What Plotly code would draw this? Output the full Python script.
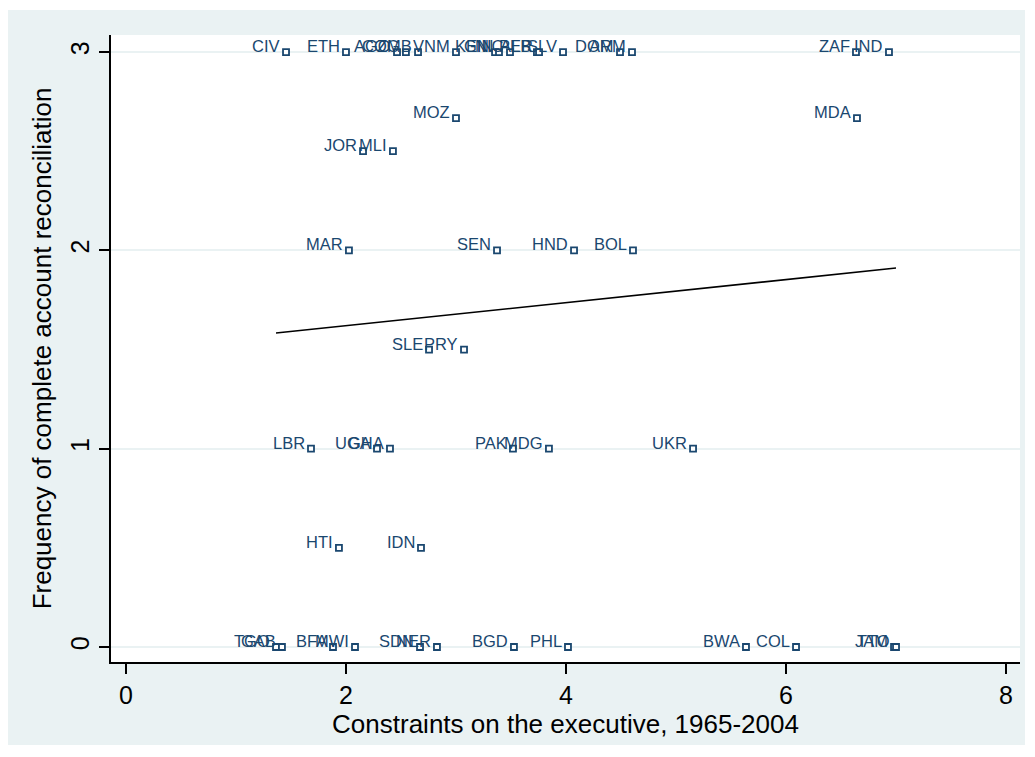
import plotly.graph_objects as go

# Country codes, executive constraints (x) and reconciliation frequency (y)
countries = [
    "CIV", "ETH", "AGO", "COG", "ZMB", "VNM", "KEN", "GIN", "NIC", "ALB",
    "PER", "SLV", "DOM", "ARM", "ZAF", "IND",
    "MOZ", "MDA", "JOR", "MLI",
    "MAR", "SEN", "HND", "BOL",
    "SLE", "PRY",
    "LBR", "UGA", "GHA", "PAK", "MDG", "UKR",
    "HTI", "IDN",
    "TGO", "GAB", "BFA", "MWI", "SDN", "NER", "BGD", "PHL", "BWA", "COL",
    "JAM", "TTO",
]
xcon = [
    1.455, 2.0, 2.464, 2.545, 2.655, 3.0, 3.355, 3.391, 3.491, 3.736,
    3.755, 3.973, 4.491, 4.6, 6.636, 6.936,
    3.0, 6.645, 2.155, 2.427,
    2.027, 3.373, 4.073, 4.609,
    2.755, 3.073,
    1.682, 2.282, 2.4, 3.518, 3.845, 5.155,
    1.936, 2.682,
    1.364, 1.418, 1.882, 2.082, 2.673, 2.827, 3.527, 4.018, 5.636, 6.091,
    6.982, 7.0,
]
yfreq = [
    3, 3, 3, 3, 3, 3, 3, 3, 3, 3,
    3, 3, 3, 3, 3, 3,
    2.667, 2.667, 2.5, 2.5,
    2, 2, 2, 2,
    1.5, 1.5,
    1, 1, 1, 1, 1, 1,
    0.5, 0.5,
    0, 0, 0, 0, 0, 0, 0, 0, 0, 0,
    0, 0,
]

# Linear fit line (fitted values at the ends of the x range)
fit_x = [1.364, 7.0]
fit_y = [1.583, 1.911]

x_ticks = [0, 2, 4, 6, 8]
y_ticks = [0, 1, 2, 3]

navy = "#1a476f"
bg = "#eaf2f3"
font_family = "Liberation Sans, Arial, Helvetica, sans-serif"

fig = go.Figure()

fig.add_trace(go.Scatter(
    x=xcon, y=yfreq, mode="markers",
    marker=dict(symbol="square", size=6, color="white",
                line=dict(color=navy, width=1.8)),
    cliponaxis=False, showlegend=False,
))

fig.add_trace(go.Scatter(
    x=fit_x, y=fit_y, mode="lines",
    line=dict(color="black", width=1.6),
    showlegend=False,
))

# marker labels, placed to the upper left of each point
for name, xv, yv in zip(countries, xcon, yfreq):
    fig.add_annotation(
        x=xv, y=yv, text=name, showarrow=False,
        xanchor="right", yanchor="bottom", xshift=-4, yshift=-5,
        font=dict(family=font_family, size=16.5, color=navy),
    )

# outer tinted panel and white plot region
fig.add_shape(type="rect", xref="paper", yref="paper",
              x0=-103 / 909, x1=1 + 5 / 909, y0=-83 / 627, y1=1 + 25 / 627,
              fillcolor=bg, line=dict(width=0), layer="below")
fig.add_shape(type="rect", xref="paper", yref="paper",
              x0=0, x1=1, y0=0, y1=1,
              fillcolor="white", line=dict(width=0), layer="below")

fig.update_layout(
    width=1035, height=757,
    margin=dict(l=111, r=15, t=35, b=95),
    paper_bgcolor="white", plot_bgcolor="rgba(0,0,0,0)",
    font=dict(family=font_family, color="black"),
    xaxis=dict(
        range=[-0.136, 8.127], tickvals=x_ticks,
        showgrid=False, zeroline=False,
        showline=True, linecolor="black", linewidth=1.5,
        ticks="outside", ticklen=10, tickwidth=1.5, tickcolor="black",
        tickfont=dict(size=25),
        title=dict(text="Constraints on the executive, 1965-2004",
                   font=dict(size=26), standoff=1),
    ),
    yaxis=dict(
        range=[-0.0756, 3.086], tickvals=y_ticks,
        showgrid=True, gridcolor=bg, gridwidth=2,
        zeroline=False,
        showline=True, linecolor="black", linewidth=1.5,
        ticks="outside", ticklen=10, tickwidth=1.5, tickcolor="black",
        tickangle=-90, tickfont=dict(size=25),
        title=dict(text="Frequency of complete account reconciliation",
                   font=dict(size=26), standoff=7),
    ),
)

fig.write_html("out.html")
